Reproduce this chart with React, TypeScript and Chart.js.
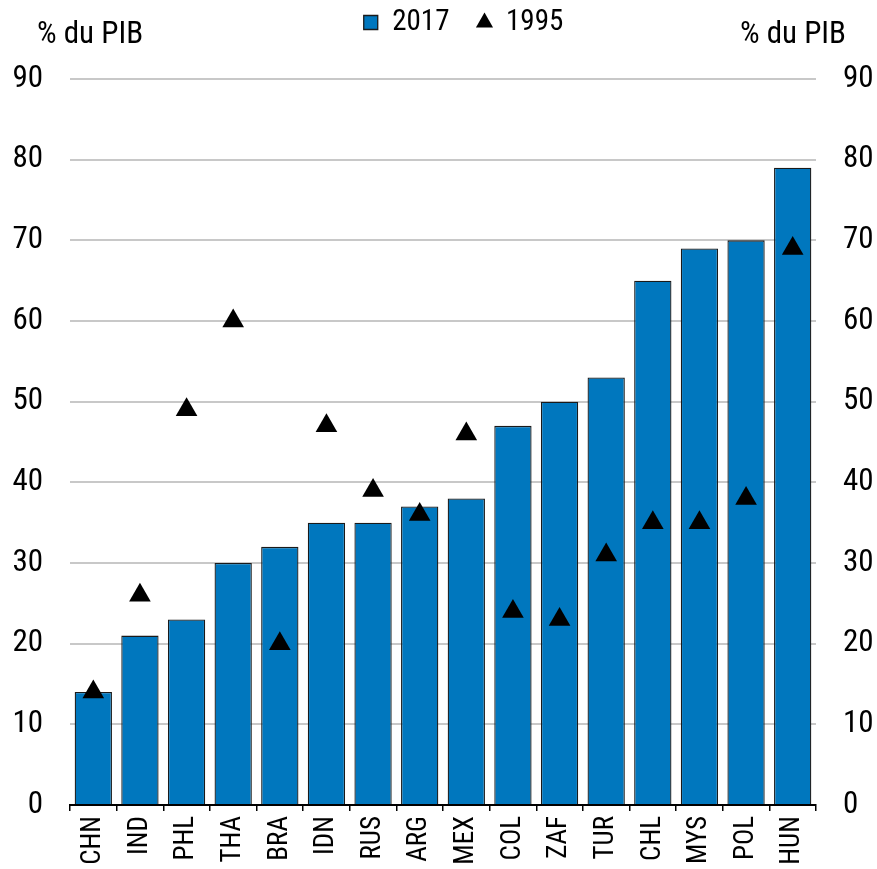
import React, { useEffect, useRef } from "react";
import { Chart, registerables } from "chart.js";

Chart.register(...registerables);

const categories = ["CHN", "IND", "PHL", "THA", "BRA", "IDN", "RUS", "ARG", "MEX", "COL", "ZAF", "TUR", "CHL", "MYS", "POL", "HUN"];
const values2017 = [14, 21, 23, 30, 32, 35, 35, 37, 38, 47, 50, 53, 65, 69, 70, 79];
const values1995 = [14, 26, 49, 60, 20, 47, 39, 36, 46, 24, 23, 31, 35, 35, 38, 69];
const seriesNames = ["2017", "1995"];
const axisTitle = "% du PIB";

const FONT = "'Liberation Sans Narrow', 'Arial Narrow', 'Roboto Condensed', 'DejaVu Sans Condensed', sans-serif";

export default function App() {
  const ref = useRef<HTMLCanvasElement | null>(null);
  useEffect(() => {
    document.body.style.margin = "0";
    const titlePlugin = {
      id: "axisTitles",
      afterDraw(chart: any) {
        const ctx = chart.ctx;
        ctx.save();
        ctx.font = `31px ${FONT}`;
        ctx.fillStyle = "#000";
        ctx.textBaseline = "middle";
        ctx.textAlign = "left";
        ctx.fillText(axisTitle, 37, 35);
        ctx.textAlign = "right";
        ctx.fillText(axisTitle, 846, 35);
        ctx.restore();
      },
    };
    const legendLayout = {
      id: "legendLayout",
      beforeInit(chart: any) {
        const legend = chart.legend;
        if (!legend) return;
        const origFit = legend.fit;
        legend.fit = function () {
          origFit.call(this);
          this.height = 79;
        };
      },
      afterLayout(chart: any) {
        const legend = chart.legend;
        if (!legend) return;
        legend.top -= 20;
        legend.bottom -= 20;
        legend.left += 25;
        legend.right += 25;
      },
    };
    const chart = new Chart(ref.current!, {
      type: "bar",
      data: {
        labels: categories,
        datasets: [
          {
            type: "bar",
            label: seriesNames[0],
            data: values2017,
            backgroundColor: "#0077be",
            borderColor: "#1a1a1a",
            borderWidth: 1.3,
            barPercentage: 0.8,
            categoryPercentage: 1,
            pointStyle: "rect",
            order: 2,
            yAxisID: "y",
          } as any,
          {
            type: "line",
            label: seriesNames[1],
            data: values1995,
            showLine: false,
            pointStyle: "triangle",
            pointRadius: 12.5,
            pointHoverRadius: 12.5,
            backgroundColor: "#000",
            borderColor: "#000",
            borderWidth: 0,
            order: 1,
            yAxisID: "y",
          } as any,
        ],
      },
      options: {
        animation: false,
        responsive: true,
        maintainAspectRatio: false,
        layout: { padding: 0 },
        plugins: {
          legend: {
            display: true,
            position: "top",
            labels: {
              usePointStyle: true,
              boxWidth: 14,
              boxHeight: 14,
              color: "#000",
              font: { family: FONT, size: 29 },
              padding: 28,
              sort: (a: any, b: any) => a.datasetIndex - b.datasetIndex,
            },
          },
          tooltip: { enabled: false },
        },
        scales: {
          x: {
            offset: true,
            afterFit: (s: any) => {
              s.height = 64;
            },
            grid: {
              display: true,
              offset: true,
              drawOnChartArea: false,
              drawTicks: true,
              tickLength: 6,
              color: "#000",
              lineWidth: 1.5,
            },
            border: { display: true, color: "#000", width: 2 },
            ticks: {
              color: "#000",
              font: { family: FONT, size: 27 },
              maxRotation: 90,
              minRotation: 90,
              autoSkip: false,
              padding: 5,
            },
          },
          y: {
            position: "left",
            min: 0,
            max: 90,
            afterFit: (s: any) => {
              s.width = 70;
            },
            grid: { color: "#c8c8c8", lineWidth: 2, drawTicks: false },
            border: { display: false },
            ticks: {
              stepSize: 10,
              color: "#000",
              font: { family: FONT, size: 31 },
              padding: 27,
            },
          },
          y2: {
            position: "right",
            min: 0,
            max: 90,
            afterFit: (s: any) => {
              s.width = 61;
            },
            grid: { display: false, drawTicks: false },
            border: { display: false },
            ticks: {
              stepSize: 10,
              color: "#000",
              font: { family: FONT, size: 31 },
              padding: 27,
            },
          },
        },
      },
      plugins: [titlePlugin, legendLayout],
    });
    return () => chart.destroy();
  }, []);
  return (
    <div style={{ position: "absolute", left: 0, top: 0, width: 877, height: 869 }}>
      <canvas ref={ref} />
    </div>
  );
}
